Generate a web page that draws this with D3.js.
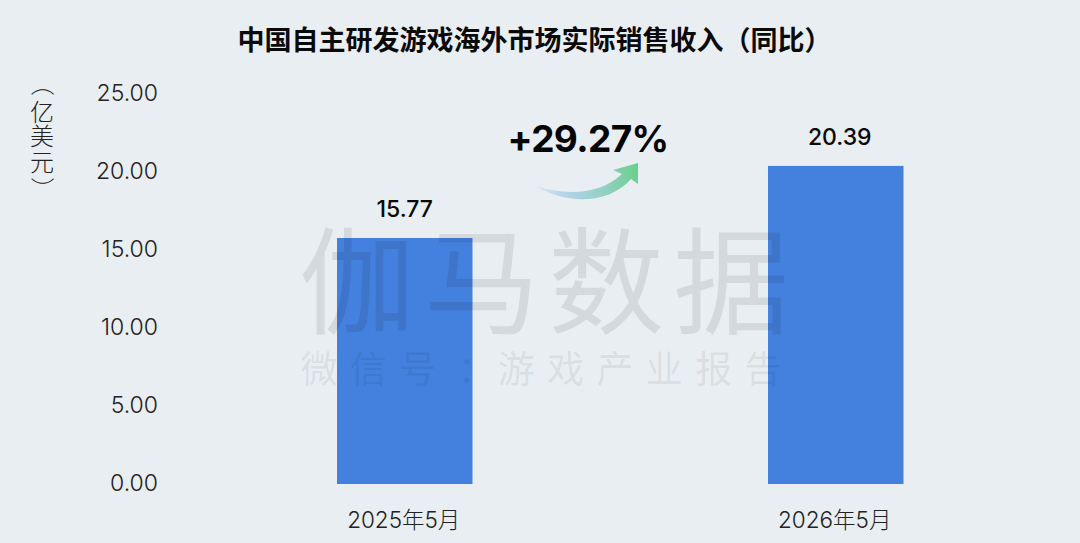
<!DOCTYPE html>
<html>
<head>
<meta charset="utf-8">
<script src="https://cdn.jsdelivr.net/npm/d3@7"></script>
<style>
  html, body { margin: 0; padding: 0; background: #e9eef2; }
  svg { display: block; }
</style>
</head>
<body>
<div id="chart"></div>
<script>
const categories = ["2025年5月", "2026年5月"];
const values = [15.77, 20.39];
const tickValues = [0, 5, 10, 15, 20, 25];
const titleText = "中国自主研发游戏海外市场实际销售收入（同比）";
const unitChars = ["（", "亿", "美", "元", "）"];
const growthText = "+29.27%";
const watermarkBig = ["伽", "马", "数", "据"];
const watermarkSmall = ["微", "信", "号", "：", "游", "戏", "产", "业", "报", "告"];

const cjk = '"Noto Sans CJK SC", sans-serif';
const latin = 'Inter, "Noto Sans CJK SC", sans-serif';

const width = 1080, height = 543;

const svg = d3.select("#chart").append("svg")
  .attr("width", width)
  .attr("height", height);

svg.append("rect")
  .attr("width", width)
  .attr("height", height)
  .attr("fill", "#e9eef2");

const x = d3.scaleBand()
  .domain(categories)
  .range([337, 903.5])
  .paddingInner(1 - 135.5 / 431)
  .paddingOuter(0);

const y = d3.scaleLinear()
  .domain([0, 25])
  .range([484, 94]);

// gradient for the growth arrow
const defs = svg.append("defs");
const grad = defs.append("linearGradient")
  .attr("id", "arrowGrad")
  .attr("gradientUnits", "userSpaceOnUse")
  .attr("x1", 535).attr("y1", 190)
  .attr("x2", 638).attr("y2", 165);
grad.append("stop").attr("offset", "0").attr("stop-color", "#5aa0e0").attr("stop-opacity", 0);
grad.append("stop").attr("offset", "0.35").attr("stop-color", "#93c6da").attr("stop-opacity", 0.7);
grad.append("stop").attr("offset", "1").attr("stop-color", "#68cf8a");

svg.append("text")
  .attr("x", 534.5)
  .attr("y", 50)
  .attr("text-anchor", "middle")
  .style("font-family", cjk)
  .style("font-size", "27px")
  .style("font-weight", 700)
  .attr("fill", "#0a0a0a")
  .text(titleText);

// y axis, labels only
const yAxis = d3.axisLeft(y)
  .tickValues(tickValues)
  .tickSize(0)
  .tickPadding(0)
  .tickFormat(d3.format(".2f"));

svg.append("g")
  .attr("transform", "translate(158,-1)")
  .call(yAxis)
  .call(g => g.select(".domain").remove())
  .selectAll("text")
  .style("font-family", latin)
  .style("font-weight", 300)
  .style("font-size", "23px")
  .attr("fill", "#222");

svg.selectAll(".unit")
  .data(unitChars)
  .enter()
  .append("text")
  .attr("class", "unit")
  .attr("transform", (d, i) => `translate(42,${[84, 113, 137, 163, 189][i]})` + (d === "（" || d === "）" ? " rotate(90)" : ""))
  .attr("text-anchor", "middle")
  .attr("dy", "0.35em")
  .style("font-family", cjk)
  .style("font-size", "24px")
  .style("font-weight", 300)
  .attr("fill", "#222")
  .text(d => d);

svg.selectAll(".bar")
  .data(values)
  .enter()
  .append("rect")
  .attr("class", "bar")
  .attr("x", (d, i) => x(categories[i]))
  .attr("y", d => y(d))
  .attr("width", x.bandwidth())
  .attr("height", d => y(0) - y(d))
  .attr("fill", "#4480de");

// the right label sits a little off the bar centre in the reference
svg.selectAll(".value")
  .data(values)
  .enter()
  .append("text")
  .attr("class", "value")
  .attr("x", (d, i) => x(categories[i]) + x.bandwidth() / 2 + (i ? 4 : 0))
  .attr("y", d => y(d) - 21)
  .attr("text-anchor", "middle")
  .style("font-family", latin)
  .style("font-size", "23px")
  .style("font-weight", 500)
  .attr("fill", "#0a0a0a")
  .text(d => d.toFixed(2));

svg.selectAll(".cat")
  .data(categories)
  .enter()
  .append("text")
  .attr("class", "cat")
  .attr("x", d => x(d) + x.bandwidth() / 2 - 1)
  .attr("y", 528)
  .attr("text-anchor", "middle")
  .style("font-family", latin)
  .style("font-size", "22.5px")
  .style("font-weight", 300)
  .attr("fill", "#222")
  .text(d => d);

svg.append("text")
  .attr("x", 588)
  .attr("y", 152)
  .attr("text-anchor", "middle")
  .style("font-family", latin)
  .style("font-size", "37px")
  .style("font-weight", 700)
  .style("letter-spacing", "-0.6px")
  .attr("fill", "#050505")
  .text(growthText);

// arrow shape
svg.append("path")
  .attr("d", "M533,185 C565,196 600,195 622,174 L613,170 L638,163 L638,184 L631,179 C607,206 565,204 533,185 Z")
  .attr("fill", "url(#arrowGrad)");

// watermark sits above the bars
const wmBig = d3.scalePoint().domain(watermarkBig).range([357, 731]);
const wmSmall = d3.scalePoint().domain(d3.range(watermarkSmall.length)).range([319, 763]);

svg.selectAll(".wmBig")
  .data(watermarkBig)
  .enter()
  .append("text")
  .attr("class", "wmBig")
  .attr("x", d => wmBig(d))
  .attr("y", 325)
  .attr("text-anchor", "middle")
  .style("font-family", cjk)
  .style("font-size", "116px")
  .style("font-weight", 400)
  .attr("fill", "#000")
  .attr("fill-opacity", 0.085)
  .text(d => d);

// the full-width colon has its ink left of centre, nudge it back
svg.selectAll(".wmSmall")
  .data(watermarkSmall)
  .enter()
  .append("text")
  .attr("class", "wmSmall")
  .attr("x", (d, i) => wmSmall(i) + (d === "：" ? 9 : 0))
  .attr("y", 383)
  .attr("text-anchor", "middle")
  .style("font-family", cjk)
  .style("font-size", "37px")
  .style("font-weight", 400)
  .attr("fill", "#000")
  .attr("fill-opacity", 0.085)
  .text(d => d);
</script>
</body>
</html>
